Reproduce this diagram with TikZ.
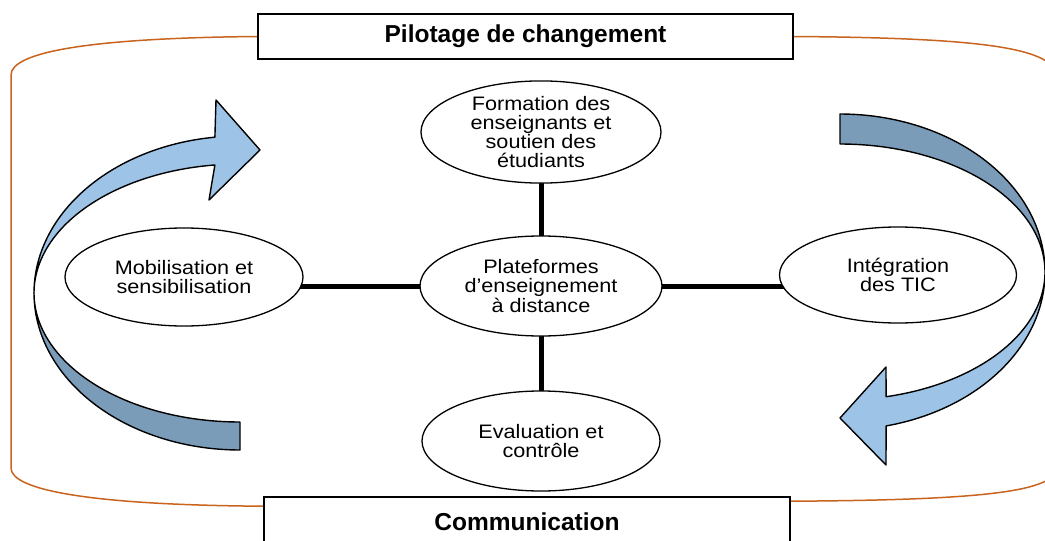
\documentclass[tikz,border=0pt]{standalone}
\usepackage{fontspec}
\setmainfont{Liberation Sans}[FakeStretch=1.11]
\newfontfamily\titlefont{Liberation Sans}
\usetikzlibrary{shapes.geometric,calc,backgrounds}
\definecolor{frameorange}{HTML}{C8641E}
\definecolor{arrowlight}{HTML}{9DC3E6}
\definecolor{arrowdark}{HTML}{7B9CB9}
\begin{document}
\begin{tikzpicture}[x=1pt,y=-1pt,
  bubble/.style={ellipse, draw=black, line width=1.3pt, fill=white, inner sep=0pt,
    minimum width=240pt, minimum height=100pt, align=center,
    font=\fontsize{19.5}{19.3}\selectfont},
  titlebox/.style={rectangle, draw=black, line width=1.6pt, fill=white, inner sep=0pt,
    font=\titlefont\bfseries\fontsize{24.5}{24.5}\selectfont},
  spoke/.style={line width=5pt, black},
  frameline/.style={draw=frameorange, line width=1.5pt},
  ribbon/.style={draw=black, line width=1.4pt, line join=round}]
\useasboundingbox (0,0) rectangle (1045,541);

% title boxes
\node[titlebox, minimum width=535pt, minimum height=45pt] (pilot) at (525.5,36.5) {Pilotage de changement};
\node[titlebox, minimum width=526pt, minimum height=50pt] (comm) at (527,522) {Communication};

% ellipses
\node[bubble, minimum height=102pt] (f) at (541,132) {Formation des\\enseignants et\\soutien des\\étudiants};
\node[bubble, minimum width=242pt] (p) at (541,286) {Plateformes\\d’enseignement\\à distance};
\node[bubble, minimum width=238pt, minimum height=98pt] (m) at (184,277) {Mobilisation et\\sensibilisation};
\node[bubble, minimum width=237pt, minimum height=96pt] (i) at (898,275) {Intégration\\des TIC};
\node[bubble, minimum width=238pt] (e) at (541,441) {Evaluation et\\contrôle};

\begin{scope}[on background layer]
  \fill[white] (0,0) rectangle (1045,541);
  % spokes
  \draw[spoke] (p.center) -- (f.center);
  \draw[spoke] (p.center) -- (e.center);
  \draw[spoke] (p.center) -- (m.center |- p.center);
  \draw[spoke] (p.center) -- (i.center |- p.center);
  % orange frame
  \draw[frameline] (pilot.west) .. controls (90,38) and (11,52) .. (11,75) -- (11,468)
     .. controls (11,490) and (90,505) .. ($(comm.north west)+(0,10)$);
  \draw[frameline] (pilot.east) .. controls (1000,38) and (1058,50) .. (1058,80) -- (1058,465)
     .. controls (1058,490) and (1000,500) .. ($(comm.north east)+(0,5)$);
\end{scope}

% left ribbon arrow
\filldraw[ribbon, fill=arrowdark]
  plot[domain=90:180, samples=60] ({240+206*cos(\x)},{293+157*sin(\x)})
  -- plot[domain=180:90, samples=60] ({240+206*cos(\x)},{293+129*sin(\x)}) -- cycle;
\filldraw[ribbon, fill=arrowlight]
  plot[domain=180:263, samples=60] ({240+206*cos(\x)},{293+157*sin(\x)})
  -- (216,100) -- (260,150) -- (209,200) -- (214.9,165)
  -- plot[domain=263:180, samples=60] ({240+206*cos(\x)},{293+129*sin(\x)}) -- cycle;

% right ribbon arrow
\filldraw[ribbon, fill=arrowdark]
  plot[domain=270:360, samples=60] ({840+205*cos(\x)},{272+158*sin(\x)})
  -- plot[domain=360:270, samples=60] ({840+205*cos(\x)},{272+128*sin(\x)}) -- cycle;
\filldraw[ribbon, fill=arrowlight]
  plot[domain=0:77, samples=60] ({840+205*cos(\x)},{272+158*sin(\x)})
  -- (886,465) -- (840,418) -- (886,367) -- (886.1,396.7)
  -- plot[domain=77:0, samples=60] ({840+205*cos(\x)},{272+128*sin(\x)}) -- cycle;
\end{tikzpicture}
\end{document}
